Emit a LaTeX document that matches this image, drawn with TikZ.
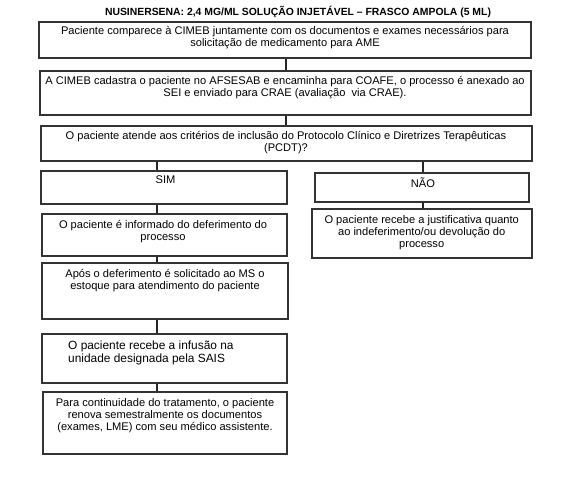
\documentclass[tikz,border=0pt]{standalone}
\usepackage{fontspec}
\setmainfont{Liberation Sans}
\begin{document}
\begin{tikzpicture}[x=1pt,y=-1pt,
  box/.style={draw=black!80, line width=1.3pt, rectangle, inner sep=0pt},
  conn/.style={draw=black!85, line width=1.2pt},
  txt/.style={font=\fontsize{11.1}{11.9}\selectfont, align=center, inner sep=0pt},
  bigtxt/.style={font=\fontsize{11.9}{13}\selectfont, align=left, inner sep=0pt, anchor=west},
  ttl/.style={font=\bfseries\fontsize{10.4}{12}\selectfont, inner sep=0pt}]
\useasboundingbox (0,0) rectangle (564,482);
% boxes
\node[box, minimum width=492pt, minimum height=36pt] (b1) at (285,40) {};
\node[box, minimum width=491pt, minimum height=44pt] (b2) at (285.5,93) {};
\node[box, minimum width=491pt, minimum height=35pt] (b3) at (286.5,143.5) {};
\node[box, minimum width=246pt, minimum height=33pt] (sim) at (164,187.5) {};
\node[box, minimum width=214pt, minimum height=29pt] (nao) at (422,187.5) {};
\node[box, minimum width=245pt, minimum height=42pt] (inf) at (164.5,235) {};
\node[box, minimum width=220pt, minimum height=49pt] (just) at (422,233.5) {};
\node[box, minimum width=246pt, minimum height=56pt] (apos) at (165,291) {};
\node[box, minimum width=245pt, minimum height=49pt] (infu) at (164.5,358.5) {};
\node[box, minimum width=244pt, minimum height=62pt] (cont) at (165,423) {};
% texts
\node[ttl] (title) at (298,12.3) {NUSINERSENA: 2,4 MG/ML SOLUÇÃO INJETÁVEL – FRASCO AMPOLA (5 ML)};
\node[txt] (t1) at (285,37.8) {Paciente comparece à CIMEB juntamente com os documentos e exames necessários para\\solicitação de medicamento para AME};
\node[txt] (t2) at (285,87.2) {A CIMEB cadastra o paciente no AFSESAB e encaminha para COAFE, o processo é anexado ao\\SEI e enviado para CRAE (avaliação\ \ via CRAE).};
\node[txt] (t3) at (286,142.5) {O paciente atende aos critérios de inclusão do Protocolo Clínico e Diretrizes Terapêuticas\\(PCDT)?};
\node[txt] (tsim) at (165.5,180) {SIM};
\node[txt] (tnao) at (423,182.7) {NÃO};
\node[txt] (tinf) at (163,231.7) {O paciente é informado do deferimento do\\processo};
\node[txt] (tjust) at (421.7,232.5) {O paciente recebe a justificativa quanto\\ao indeferimento/ou devolução do\\processo};
\node[txt] (tapos) at (165,280.8) {Após o deferimento é solicitado ao MS o\\estoque para atendimento do paciente};
\node[bigtxt] (tinfu) at (68,352.5) {O paciente recebe a infusão na\\unidade designada pela SAIS};
\node[txt] (tcont) at (165,415.8) {Para continuidade do tratamento, o paciente\\renova semestralmente os documentos\\(exames, LME) com seu médico assistente.};
% column coordinates
\coordinate (colM) at (286,0);
\coordinate (colL) at (157,0);
\coordinate (colR) at (423,0);
% connectors
\draw[conn] (b1.south -| colM) -- (b2.north -| colM);
\draw[conn] (b2.south -| colM) -- (b3.north -| colM);
\draw[conn] (b3.south -| colL) -- (sim.north -| colL);
\draw[conn] (b3.south -| colR) -- (nao.north -| colR);
\draw[conn] (sim.south -| colL) -- (inf.north -| colL);
\draw[conn] (nao.south -| colR) -- (just.north -| colR);
\draw[conn] (inf.south -| colL) -- (apos.north -| colL);
\draw[conn] (apos.south -| colL) -- (infu.north -| colL);
\draw[conn] (infu.south -| colL) -- (cont.north -| colL);
\end{tikzpicture}
\end{document}
